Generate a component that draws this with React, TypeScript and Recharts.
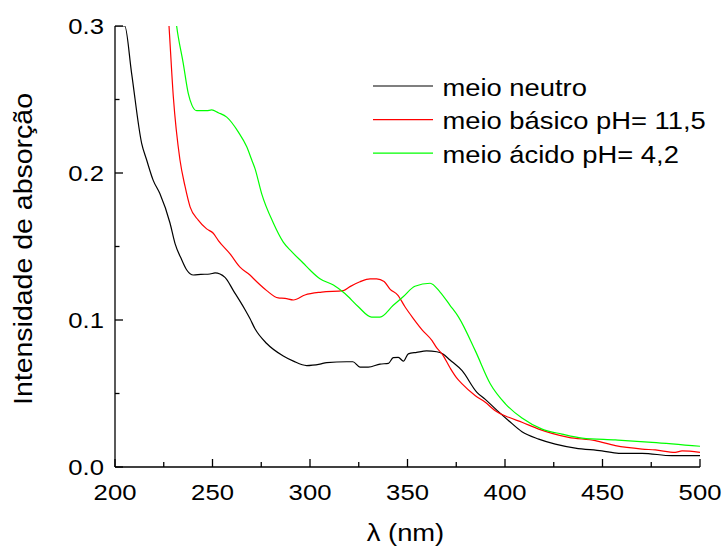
import React from 'react';
import { LineChart, Line, XAxis, YAxis, Legend } from 'recharts';

// wavelengths (nm) and absorbance values
const neutroX = [200, 205, 208.5, 213.7, 216.2, 219.6, 223, 228.2, 230.8, 234.2, 236.8, 240.2, 244, 248.7, 251.3, 256.4, 260.7, 266.7, 269.2, 271.8, 277.8, 286.3, 291.5, 298.3, 305.1, 308.6, 318.8, 322, 325.6, 329.9, 335.9, 340.2, 342.7, 345.3, 347.9, 350.4, 354.7, 359.8, 365, 368, 371.8, 378, 385.6, 389.9, 395.9, 401.9, 408.7, 417.3, 425.8, 436.1, 449.7, 458.3, 470.3, 485.6, 500];
const neutroY = [0.3, 0.3, 0.268, 0.22, 0.209, 0.195, 0.186, 0.166, 0.152, 0.141, 0.134, 0.1306, 0.131, 0.1313, 0.132, 0.129, 0.12, 0.107, 0.101, 0.094, 0.084, 0.0755, 0.072, 0.069, 0.07, 0.071, 0.0716, 0.0716, 0.068, 0.068, 0.07, 0.0705, 0.0744, 0.0746, 0.072, 0.077, 0.078, 0.079, 0.0784, 0.077, 0.0728, 0.0655, 0.0508, 0.046, 0.0385, 0.0315, 0.024, 0.019, 0.0156, 0.0129, 0.011, 0.0093, 0.0093, 0.0077, 0.0077];

const basicoX = [226, 227.7, 229.9, 233.3, 235.9, 238.5, 242.7, 247, 250.4, 253, 259, 264.1, 269.2, 272.7, 277.8, 283.7, 287.2, 291.5, 297.4, 306, 317.1, 320.5, 325.6, 330.8, 334.2, 338, 341, 345, 348.7, 353, 357.7, 362.6, 365, 367.7, 371.8, 375, 378, 384.8, 389.9, 395, 401.9, 408.7, 417.3, 424.1, 432.6, 446.3, 456.6, 470.3, 477.1, 487.3, 490.8, 500];
const basicoY = [0.335, 0.3, 0.252, 0.209, 0.191, 0.177, 0.168, 0.162, 0.159, 0.154, 0.145, 0.136, 0.1306, 0.126, 0.12, 0.115, 0.1147, 0.1136, 0.117, 0.119, 0.12, 0.1227, 0.126, 0.128, 0.128, 0.1262, 0.121, 0.117, 0.109, 0.101, 0.093, 0.086, 0.081, 0.077, 0.0675, 0.061, 0.0565, 0.0485, 0.044, 0.0383, 0.0338, 0.0304, 0.0258, 0.0229, 0.0202, 0.0179, 0.0145, 0.0122, 0.0116, 0.01, 0.011, 0.01];

const acidoX = [230, 231.6, 235, 237.6, 239.5, 241.9, 247, 249.6, 253, 257.3, 263.2, 267.5, 270.1, 271.8, 275.2, 281.2, 286.3, 290.6, 296.6, 300, 305.1, 312, 317.9, 324.8, 331.6, 335.9, 342.7, 347.9, 353.8, 361.6, 366.7, 371.8, 376.2, 384.8, 392.5, 400.2, 408.7, 419, 429.2, 439.5, 456.6, 475.4, 500];
const acidoY = [0.318, 0.3, 0.2746, 0.254, 0.246, 0.2424, 0.2424, 0.2429, 0.241, 0.238, 0.228, 0.218, 0.209, 0.203, 0.186, 0.166, 0.153, 0.1465, 0.1386, 0.134, 0.128, 0.1238, 0.118, 0.109, 0.102, 0.102, 0.11, 0.116, 0.123, 0.125, 0.119, 0.11, 0.102, 0.079, 0.0565, 0.043, 0.0333, 0.0258, 0.0224, 0.0197, 0.0184, 0.0168, 0.0141];

const seriesNames = ['meio neutro', 'meio básico pH= 11,5', 'meio ácido pH= 4,2'];
const xTicks = [200, 225, 250, 275, 300, 325, 350, 375, 400, 425, 450, 475, 500];
const yTicks = [0, 0.05, 0.1, 0.15, 0.2, 0.25, 0.3];
const xLabel = 'λ (nm)';
const yLabel = 'Intensidade de absorção';

const toData = (xs: number[], ys: number[]) => xs.map((x, i) => ({ x, y: ys[i] }));
const neutroData = toData(neutroX, neutroY);
const basicoData = toData(basicoX, basicoY);
const acidoData = toData(acidoX, acidoY);

const FONT = "'Liberation Sans', Arial, Helvetica, sans-serif";
const SX = 1.14;

function XTick(props: any) {
  const { x, y, payload } = props;
  const v = payload.value as number;
  const major = v % 50 === 0;
  return (
    <g>
      <line x1={x} x2={x} y1={y} y2={y - (major ? 8 : 5)} stroke="#000" strokeWidth={1.3} />
      {major && (
        <text transform={`translate(${x},${y + 33}) scale(${SX},1)`} textAnchor="middle" fontSize={22.5} fontFamily={FONT} fill="#000">
          {v}
        </text>
      )}
    </g>
  );
}

function YTick(props: any) {
  const { x, y, payload } = props;
  const v = payload.value as number;
  const major = Math.abs(v * 10 - Math.round(v * 10)) < 1e-6;
  return (
    <g>
      <line x1={x} x2={x + (major ? 8 : 4.5)} y1={y} y2={y} stroke="#000" strokeWidth={1.3} />
      {major && (
        <text transform={`translate(${x - 11},${y + 8.3}) scale(${SX},1)`} textAnchor="end" fontSize={22.5} fontFamily={FONT} fill="#000">
          {v.toFixed(1)}
        </text>
      )}
    </g>
  );
}

function renderLegend(props: any) {
  const payload = [...(props.payload || [])].sort(
    (a: any, b: any) => seriesNames.indexOf(a.value) - seriesNames.indexOf(b.value)
  );
  return (
    <svg width={724} height={548} style={{ position: 'absolute', left: 0, top: 0, pointerEvents: 'none' }}>
      {payload.map((entry: any, i: number) => {
        const cy = 86 + i * 33.6;
        return (
          <g key={i}>
            <line x1={373} x2={433} y1={cy} y2={cy} stroke={entry.color} strokeWidth={1.2} />
            <text transform={`translate(442.5,${cy + 9.5}) scale(${SX},1)`} fontSize={24} fontFamily={FONT} fill="#000">
              {entry.value}
            </text>
          </g>
        );
      })}
    </svg>
  );
}

export default function App() {
  return (
    <div style={{ position: 'absolute', left: 0, top: 0, width: 724, height: 548, background: '#fff' }}>
      <LineChart width={724} height={548} margin={{ top: 26, right: 24, bottom: 80, left: 114 }}>
        <XAxis
          type="number"
          dataKey="x"
          domain={[200, 500]}
          ticks={xTicks}
          interval={0}
          height={1}
          tickSize={0}
          tickMargin={0}
          tickLine={false}
          tick={<XTick />}
          axisLine={{ stroke: '#000', strokeWidth: 1.3 }}
          allowDataOverflow
          label={() => (
            <text transform={`translate(405.5,541) scale(${SX},1)`} textAnchor="middle" fontSize={24} fontFamily={FONT} fill="#000">
              {xLabel}
            </text>
          )}
        />
        <YAxis
          type="number"
          domain={[0, 0.3]}
          ticks={yTicks}
          interval={0}
          width={1}
          tickSize={0}
          tickMargin={0}
          tickLine={false}
          tick={<YTick />}
          axisLine={{ stroke: '#000', strokeWidth: 1.3 }}
          allowDataOverflow
          label={() => (
            <text transform={`translate(31.5,249) rotate(-90) scale(${SX},1)`} textAnchor="middle" fontSize={25} fontFamily={FONT} fill="#000">
              {yLabel}
            </text>
          )}
        />
        <Legend layout="vertical" align="center" verticalAlign="middle" content={renderLegend} wrapperStyle={{ position: 'absolute', left: 0, top: 0, width: 724, height: 548 }} />
        <Line data={neutroData} dataKey="y" name={seriesNames[0]} stroke="#000000" strokeWidth={1.2} dot={false} activeDot={false} isAnimationActive={false} type="monotone" />
        <Line data={basicoData} dataKey="y" name={seriesNames[1]} stroke="#ff0000" strokeWidth={1.2} dot={false} activeDot={false} isAnimationActive={false} type="monotone" />
        <Line data={acidoData} dataKey="y" name={seriesNames[2]} stroke="#00ff00" strokeWidth={1.2} dot={false} activeDot={false} isAnimationActive={false} type="monotone" />
      </LineChart>
    </div>
  );
}
